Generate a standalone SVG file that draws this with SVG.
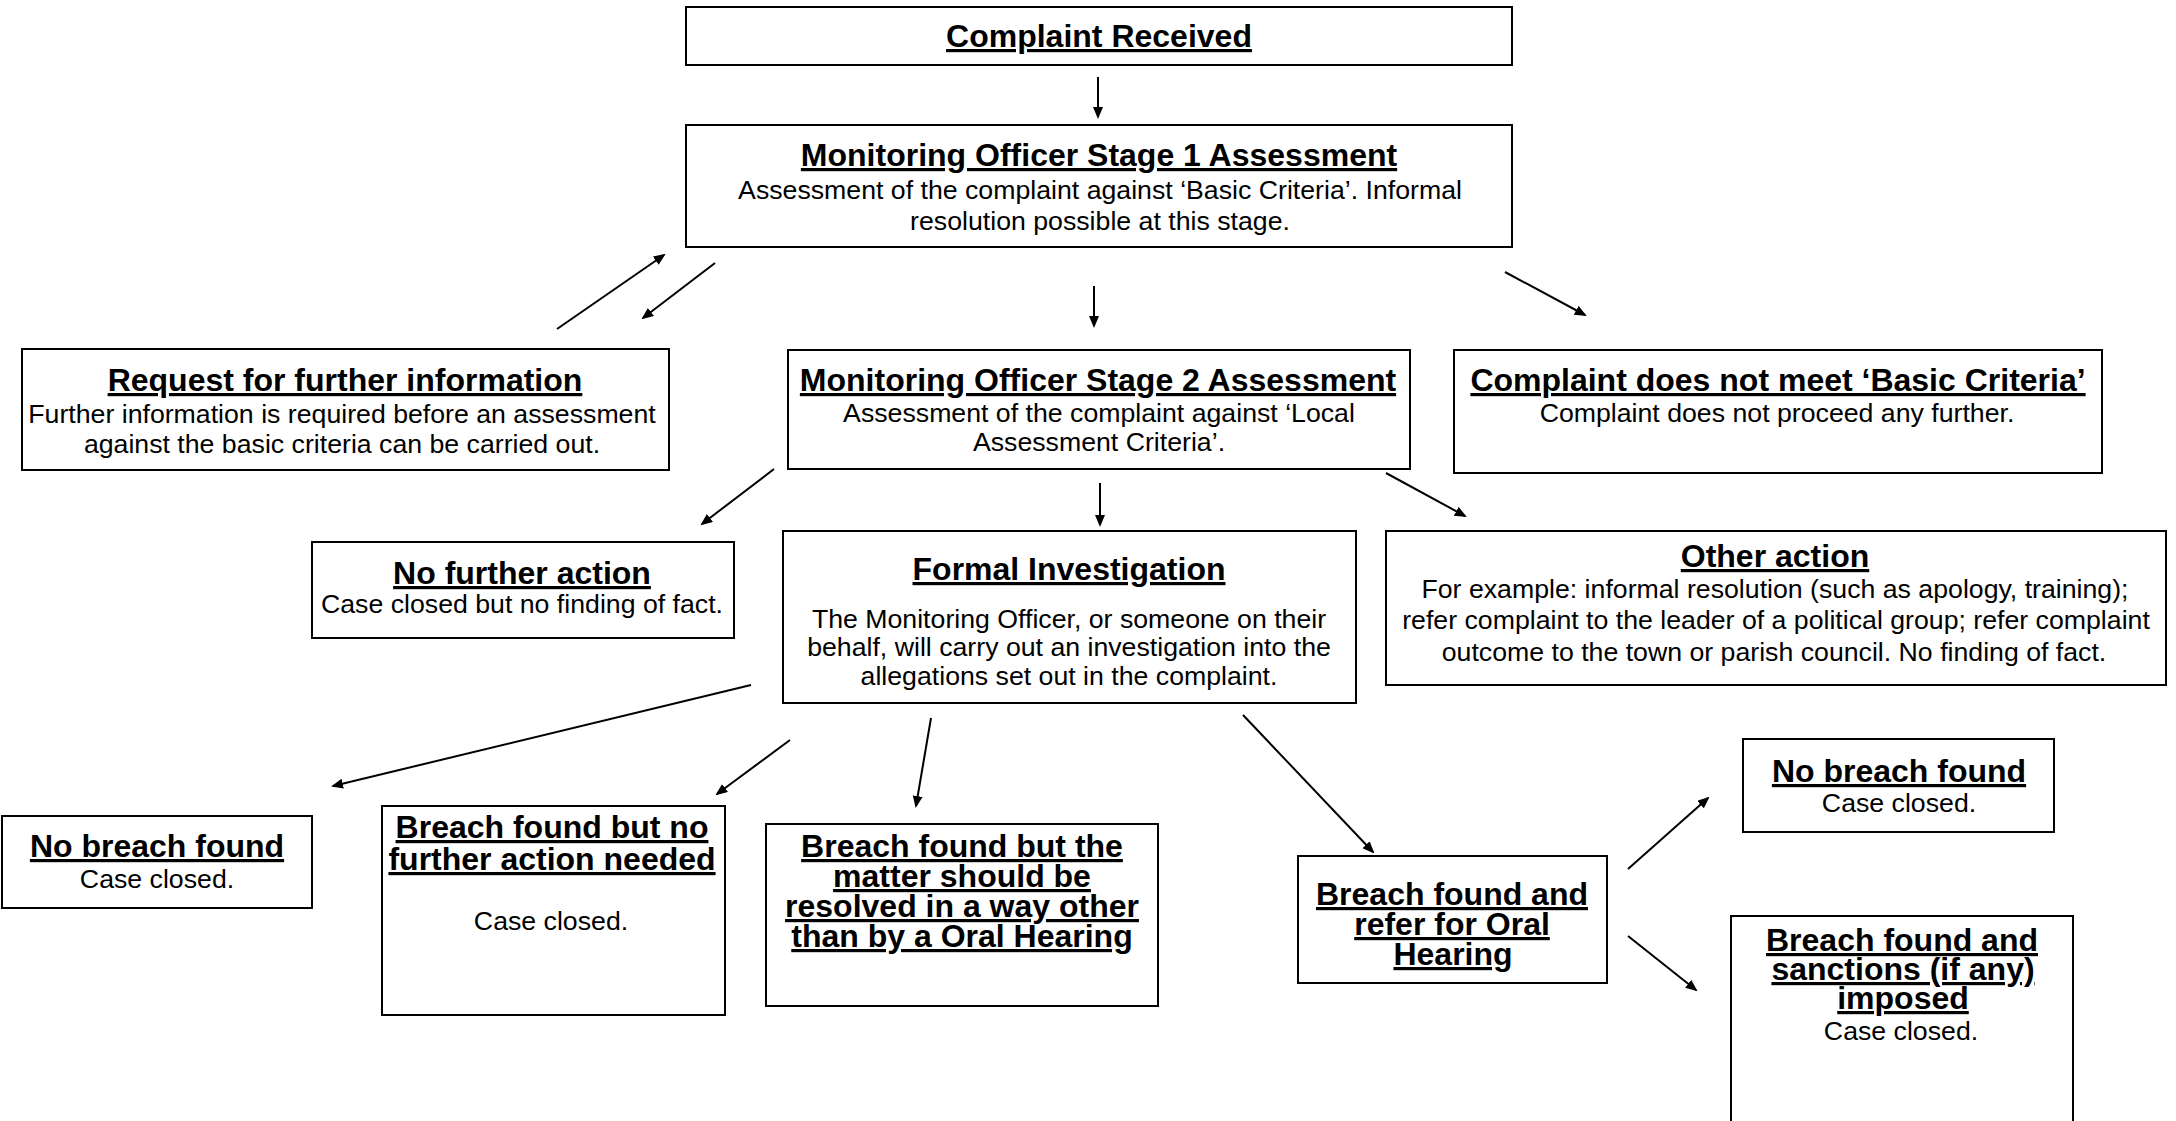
<svg xmlns="http://www.w3.org/2000/svg" width="2176" height="1121" viewBox="0 0 2176 1121">
<style>
  .box { fill: #ffffff; stroke: #000000; stroke-width: 2; }
  .t { font-family: "Liberation Sans", Arial, sans-serif; font-weight: bold; font-size: 32px; text-anchor: middle; fill: #000000; text-decoration: underline; text-decoration-thickness: 3px; text-underline-offset: 4px; }
  .b { font-family: "Liberation Sans", Arial, sans-serif; font-size: 26.7px; text-anchor: middle; fill: #000000; }
  .c { stroke: #000000; stroke-width: 2; fill: none; marker-end: url(#ah); }
</style>
<defs>
  <marker id="ah" markerUnits="userSpaceOnUse" markerWidth="12" markerHeight="10" refX="10" refY="5" orient="auto">
    <path d="M0,0 L12,5 L0,10 z" fill="#000000"/>
  </marker>
</defs>
<rect x="0" y="0" width="2176" height="1121" fill="#ffffff"/>

<g id="complaint-received">
  <rect class="box" x="686" y="7" width="826" height="58"/>
  <text class="t" x="1099" y="47">Complaint Received</text>
</g>

<g id="stage1">
  <rect class="box" x="686" y="125" width="826" height="122"/>
  <text class="t" x="1099" y="166">Monitoring Officer Stage 1 Assessment</text>
  <text class="b" x="1100" y="199">Assessment of the complaint against ‘Basic Criteria’. Informal</text>
  <text class="b" x="1100" y="230">resolution possible at this stage.</text>
</g>

<g id="request-info">
  <rect class="box" x="22" y="349" width="647" height="121"/>
  <text class="t" x="345" y="391">Request for further information</text>
  <text class="b" x="342" y="423">Further information is required before an assessment</text>
  <text class="b" x="342" y="453">against the basic criteria can be carried out.</text>
</g>

<g id="stage2">
  <rect class="box" x="788" y="350" width="622" height="119"/>
  <text class="t" x="1098" y="391">Monitoring Officer Stage 2 Assessment</text>
  <text class="b" x="1099" y="422">Assessment of the complaint against ‘Local</text>
  <text class="b" x="1099" y="451">Assessment Criteria’.</text>
</g>

<g id="not-basic">
  <rect class="box" x="1454" y="350" width="648" height="123"/>
  <text class="t" x="1778" y="391">Complaint does not meet ‘Basic Criteria’</text>
  <text class="b" x="1777" y="422">Complaint does not proceed any further.</text>
</g>

<g id="no-further-action">
  <rect class="box" x="312" y="542" width="422" height="96"/>
  <text class="t" x="522" y="584">No further action</text>
  <text class="b" x="522" y="613">Case closed but no finding of fact.</text>
</g>

<g id="formal-investigation">
  <rect class="box" x="783" y="531" width="573" height="172"/>
  <text class="t" x="1069" y="580">Formal Investigation</text>
  <text class="b" x="1069" y="628">The Monitoring Officer, or someone on their</text>
  <text class="b" x="1069" y="656">behalf, will carry out an investigation into the</text>
  <text class="b" x="1069" y="685">allegations set out in the complaint.</text>
</g>

<g id="other-action">
  <rect class="box" x="1386" y="531" width="780" height="154"/>
  <text class="t" x="1775" y="567">Other action</text>
  <text class="b" x="1775" y="598">For example: informal resolution (such as apology, training);</text>
  <text class="b" x="1776" y="629">refer complaint to the leader of a political group; refer complaint</text>
  <text class="b" x="1774" y="661">outcome to the town or parish council. No finding of fact.</text>
</g>

<g id="no-breach-left">
  <rect class="box" x="2" y="816" width="310" height="92"/>
  <text class="t" x="157" y="857">No breach found</text>
  <text class="b" x="157" y="888">Case closed.</text>
</g>

<g id="breach-no-action">
  <rect class="box" x="382" y="806" width="343" height="209"/>
  <text class="t" x="552" y="838">Breach found but no</text>
  <text class="t" x="552" y="870">further action needed</text>
  <text class="b" x="551" y="930">Case closed.</text>
</g>

<g id="breach-other-way">
  <rect class="box" x="766" y="824" width="392" height="182"/>
  <text class="t" x="962" y="857">Breach found but the</text>
  <text class="t" x="962" y="887">matter should be</text>
  <text class="t" x="962" y="917">resolved in a way other</text>
  <text class="t" x="962" y="947">than by a Oral Hearing</text>
</g>

<g id="breach-oral-hearing">
  <rect class="box" x="1298" y="856" width="309" height="127"/>
  <text class="t" x="1452" y="905">Breach found and</text>
  <text class="t" x="1452" y="935">refer for Oral</text>
  <text class="t" x="1453" y="965">Hearing</text>
</g>

<g id="no-breach-right">
  <rect class="box" x="1743" y="739" width="311" height="93"/>
  <text class="t" x="1899" y="782">No breach found</text>
  <text class="b" x="1899" y="812">Case closed.</text>
</g>

<g id="breach-sanctions">
  <rect class="box" x="1731" y="916" width="342" height="220"/>
  <text class="t" x="1902" y="951">Breach found and</text>
  <text class="t" x="1903" y="980">sanctions (if any)</text>
  <text class="t" x="1903" y="1009">imposed</text>
  <text class="b" x="1901" y="1040">Case closed.</text>
</g>

<g id="connectors">
  <line class="c" x1="1098" y1="77" x2="1098" y2="117"/>
  <line class="c" x1="557" y1="329" x2="664" y2="255"/>
  <line class="c" x1="715" y1="263" x2="643" y2="318"/>
  <line class="c" x1="1094" y1="286" x2="1094" y2="326"/>
  <line class="c" x1="1505" y1="272" x2="1585" y2="315"/>
  <line class="c" x1="774" y1="469" x2="702" y2="524"/>
  <line class="c" x1="1100" y1="483" x2="1100" y2="525"/>
  <line class="c" x1="1386" y1="473" x2="1465" y2="516"/>
  <line class="c" x1="751" y1="685" x2="333" y2="786"/>
  <line class="c" x1="790" y1="740" x2="717" y2="794"/>
  <line class="c" x1="931" y1="718" x2="916" y2="806"/>
  <line class="c" x1="1243" y1="715" x2="1373" y2="852"/>
  <line class="c" x1="1628" y1="869" x2="1708" y2="798"/>
  <line class="c" x1="1628" y1="936" x2="1696" y2="990"/>
</g>
</svg>
